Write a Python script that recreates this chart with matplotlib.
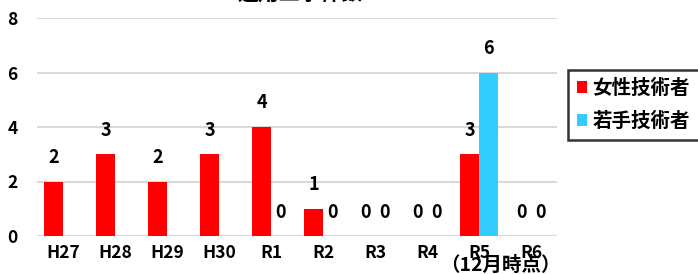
import matplotlib
matplotlib.use("Agg")
import matplotlib.pyplot as plt
import numpy as np

plt.rcParams['font.family'] = ['Noto Sans CJK JP', 'DejaVu Sans']
plt.rcParams['font.weight'] = 'bold'

# data
years = ['H27', 'H28', 'H29', 'H30', 'R1', 'R2', 'R3', 'R4', 'R5', 'R6']
female = [2, 3, 2, 3, 4, 1, 0, 0, 3, 0]
young = [None, None, None, None, 0, 0, 0, 0, 6, 0]
series_names = ['女性技術者', '若手技術者']
note = '（12月時点）'
title = '適用工事件数'

fig = plt.figure(figsize=(6.98, 2.74), dpi=100)
ax = fig.add_axes([37 / 698, 38 / 274, 520 / 698, 218 / 274])

x = np.arange(len(years))
w = 0.365
yv = [v if v is not None else 0 for v in young]
b1 = ax.bar(x - w / 2, female, w, color='#ff0000', label=series_names[0], zorder=3)
b2 = ax.bar(x + w / 2, yv, w, color='#33ccff', label=series_names[1], zorder=3)

for i, v in enumerate(female):
    ax.annotate(str(v), (x[i] - w / 2, v), xytext=(0, 24), textcoords='offset pixels',
                ha='center', va='center', fontsize=13, fontweight='bold')
for i, v in enumerate(young):
    if v is None:
        continue
    ax.annotate(str(v), (x[i] + w / 2, v), xytext=(0, 24), textcoords='offset pixels',
                ha='center', va='center', fontsize=13, fontweight='bold')

ax.set_xlim(-0.5, len(years) - 0.5)
ax.set_ylim(0, 8)
ax.set_yticks([0, 2, 4, 6, 8])
ax.set_xticks(x)
ax.set_xticklabels(years)
ax.tick_params(length=0, labelsize=12.5)
ax.tick_params(axis='y', pad=14)
ax.tick_params(axis='x', pad=6)
ax.grid(axis='y', color='#d9d9d9', linewidth=1.5, zorder=0)
for s in ax.spines.values():
    s.set_visible(False)

ax.text(8.42, -1.08, note, ha='center', va='center', fontsize=14, fontweight='bold')

fig.text(300 / 698, 1.0 + 6 / 274, title, ha='center', va='center', fontsize=15,
         fontweight='bold')

leg = fig.legend(handles=[b1, b2], loc='upper left', bbox_to_anchor=(568 / 698, 1 - 70 / 274),
                 borderaxespad=0, frameon=True, fancybox=False, edgecolor='black',
                 handlelength=0.55, handleheight=0.55, handletextpad=0.25, borderpad=0.45,
                 labelspacing=0.7, prop={'weight': 'bold', 'size': 14})
leg.get_frame().set_linewidth(1.8)

fig.savefig('out.png', dpi=100)
